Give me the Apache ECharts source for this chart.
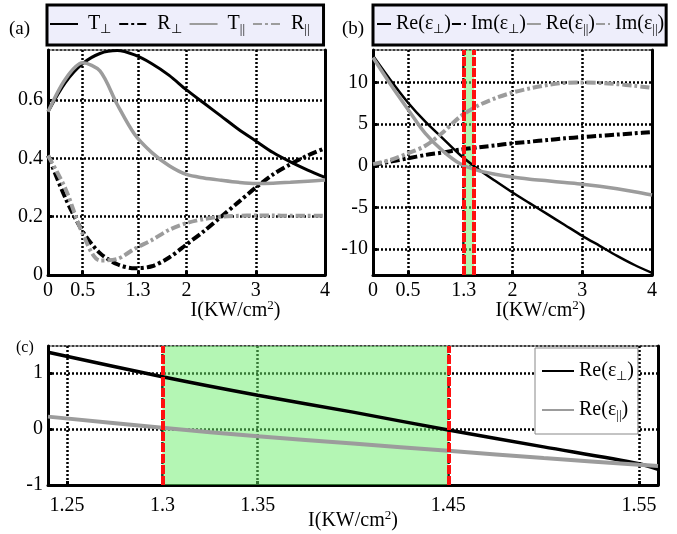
<!DOCTYPE html>
<html>
<head>
<meta charset="utf-8">
<script src="https://cdn.jsdelivr.net/npm/echarts@6/dist/echarts.min.js"></script>
<style>
  html, body { margin: 0; background: #fff; }
  #chart { width: 677px; height: 534px; }
</style>
</head>
<body>
<div id="chart"></div>
<script>
// ---- data ----
// (a) transmission / reflection vs intensity
const xA = [0, 0.25, 0.5, 0.75, 1, 1.25, 1.5, 1.75, 2, 2.25, 2.5, 2.75, 3, 3.25, 3.5, 3.75, 4];
const tPerp = [0.56, 0.66, 0.725, 0.76, 0.77, 0.755, 0.725, 0.685, 0.635, 0.59, 0.545, 0.50, 0.46, 0.42, 0.388, 0.36, 0.335];
const rPerp = [0.41, 0.265, 0.15, 0.075, 0.037, 0.023, 0.03, 0.06, 0.105, 0.15, 0.2, 0.25, 0.3, 0.345, 0.38, 0.41, 0.435];
const tPar = [0.56, 0.672, 0.728, 0.70, 0.585, 0.483, 0.42, 0.375, 0.345, 0.333, 0.325, 0.318, 0.314, 0.315, 0.318, 0.322, 0.326];
const rPar = [0.41, 0.297, 0.142, 0.05, 0.055, 0.09, 0.12, 0.155, 0.178, 0.192, 0.2, 0.203, 0.204, 0.204, 0.203, 0.203, 0.203];

// (b) permittivity components vs intensity
const xB = xA;
const reEpsPerp = [13.2, 10.3, 7.6, 5.3, 3.3, 1.3, -0.35, -1.8, -3.2, -4.5, -5.8, -7.1, -8.4, -9.6, -10.8, -11.9, -12.85];
const imEpsPerp = [0.1, 0.5, 0.9, 1.3, 1.6, 1.95, 2.2, 2.45, 2.7, 2.9, 3.1, 3.3, 3.45, 3.6, 3.75, 3.9, 4.05];
const reEpsPar = [13.0, 9.8, 6.8, 3.9, 1.8, 0.25, -0.55, -1.0, -1.35, -1.6, -1.8, -2.0, -2.2, -2.45, -2.75, -3.1, -3.5];
const imEpsPar = [0.2, 0.7, 1.5, 2.4, 4.0, 5.9, 7.2, 8.1, 8.8, 9.3, 9.7, 9.95, 10.0, 9.95, 9.8, 9.6, 9.35];

// (c) zoom on the real parts
const xC = [1.24, 1.3, 1.35, 1.4, 1.45, 1.5, 1.55, 1.56];
const reEpsPerpC = [1.37, 0.93, 0.6, 0.3, -0.02, -0.32, -0.62, -0.72];
const reEpsParC = [0.22, 0.02, -0.13, -0.26, -0.39, -0.52, -0.64, -0.66];

const bandStart = 1.3;
const bandEnd = 1.45;

// tick labels
const ticksXA = [0, 0.5, 1.3, 2, 3, 4];
const ticksYA = [0, 0.2, 0.4, 0.6];
const ticksYB = [-10, -5, 0, 5, 10];
const ticksXC = [1.25, 1.3, 1.35, 1.45, 1.55];
const ticksYC = [-1, 0, 1];

const namesA = ['T⊥', 'R⊥', 'T||', 'R||'];
const namesB = ['Re(ε⊥)', 'Im(ε⊥)', 'Re(ε||)', 'Im(ε||)'];
const xName = 'I(KW/cm{p|2})';

// ---- styles ----
const FONT = 'Liberation Serif';
const GRAY = '#9c9c9c';
const DASHDOT = [9, 3, 3, 3];

const pairs = (xs, ys) => xs.map((x, i) => [x, ys[i]]);
const subFmt = (name) => name.replace('⊥', '{s|⊥}').replace('||', '{s|||}');
const richSub = {
  s: { fontFamily: FONT, fontSize: 13, color: '#000', padding: [11, 0, 0, 0] },
};
// hide the circle that line series put in the middle of their legend icon
const noSymbol = { color: 'rgba(0,0,0,0)', borderWidth: 0 };

const gridLine = { show: true, lineStyle: { color: '#000', width: 2.5, type: [2, 2] } };

const bottomX = (gi, min, max, ticks, namePad, labelMargin) => ({
  type: 'value', gridIndex: gi, position: 'bottom', min, max,
  axisLine: { onZero: false, lineStyle: { color: '#000', width: 3 } },
  axisTick: { customValues: ticks, inside: true, length: 4, lineStyle: { color: '#000', width: 3 } },
  axisLabel: { customValues: ticks, color: '#000', fontFamily: FONT, fontSize: 20, margin: labelMargin },
  splitLine: gridLine,
  name: xName, nameLocation: 'middle', nameGap: 24, nameMoveOverlap: false,
  nameTextStyle: {
    color: '#000', fontFamily: FONT, fontSize: 20, padding: [0, 0, 0, namePad],
    rich: { p: { fontFamily: FONT, fontSize: 13, color: '#000', padding: [0, 0, 10, 0] } },
  },
});
const topX = (gi, min, max) => ({
  type: 'value', gridIndex: gi, position: 'top', min, max,
  axisLine: { onZero: false, lineStyle: { color: '#000', width: 1.5, type: [2, 2] } },
  axisTick: { show: false }, axisLabel: { show: false }, splitLine: { show: false },
});
const leftY = (gi, min, max, ticks) => ({
  type: 'value', gridIndex: gi, position: 'left', min, max,
  axisLine: { show: true, onZero: false, lineStyle: { color: '#000', width: 3 } },
  axisTick: { show: true, customValues: ticks, inside: true, length: 4, lineStyle: { color: '#000', width: 3 } },
  axisLabel: { customValues: ticks, color: '#000', fontFamily: FONT, fontSize: 20, margin: 5 },
  splitLine: gridLine,
});
const rightY = (gi, min, max) => ({
  type: 'value', gridIndex: gi, position: 'right', min, max,
  axisLine: { show: true, onZero: false, lineStyle: { color: '#000', width: 3 } },
  axisTick: { show: false }, axisLabel: { show: false }, splitLine: { show: false },
});

const line = (name, axis, data, color, width, type) => ({
  name, type: 'line', xAxisIndex: axis, yAxisIndex: axis, data,
  symbol: 'none', smooth: 0.3, animation: false,
  lineStyle: { color, width, type: type || 'solid' },
  itemStyle: { color },
});

const band = () => ({
  markArea: {
    silent: true, itemStyle: { color: 'rgba(105,238,105,0.5)' },
    data: [[{ xAxis: bandStart }, { xAxis: bandEnd }]],
  },
  markLine: {
    silent: true, symbol: 'none', label: { show: false },
    lineStyle: { color: '#ff1010', width: 4, type: [9, 2] },
    data: [{ xAxis: bandStart }, { xAxis: bandEnd }],
  },
});

const chart = echarts.init(document.getElementById('chart'), null, { renderer: 'canvas' });
chart.setOption({
  backgroundColor: '#fff',
  animation: false,
  title: [
    { text: '(a)', left: 9, top: 20, padding: 0, textStyle: { fontFamily: FONT, fontSize: 19, fontWeight: 'normal', color: '#000' } },
    { text: '(b)', left: 342, top: 20, padding: 0, textStyle: { fontFamily: FONT, fontSize: 19, fontWeight: 'normal', color: '#000' } },
    { text: '(c)', left: 16, top: 340, padding: 0, textStyle: { fontFamily: FONT, fontSize: 16, fontWeight: 'normal', color: '#000' } },
  ],
  legend: [
    {
      data: namesA, left: 47, top: 5, selectedMode: false,
      itemWidth: 28, itemHeight: 14, itemGap: 7, padding: [9, 14, 9, 2],
      backgroundColor: '#eeeefb', borderColor: '#000', borderWidth: 3, borderRadius: 0,
      itemStyle: noSymbol,
      formatter: subFmt,
      textStyle: { fontFamily: FONT, fontSize: 20, color: '#000', padding: [0, 0, 0, 5], rich: richSub },
    },
    {
      data: namesB, left: 373, top: 5, selectedMode: false,
      itemWidth: 14, itemHeight: 14, itemGap: 0, padding: [9, 2, 9, 3],
      backgroundColor: '#eeeefb', borderColor: '#000', borderWidth: 3, borderRadius: 0,
      itemStyle: noSymbol,
      formatter: subFmt,
      textStyle: { fontFamily: FONT, fontSize: 20, color: '#000', rich: richSub },
    },
    {
      data: [namesB[0], namesB[2]], left: 535, top: 348, orient: 'vertical', selectedMode: false,
      itemWidth: 32, itemHeight: 14, itemGap: 17, padding: [13, 4, 12, 6],
      backgroundColor: '#fff', borderColor: '#888', borderWidth: 1, borderRadius: 0,
      itemStyle: noSymbol,
      formatter: subFmt,
      textStyle: { fontFamily: FONT, fontSize: 20, color: '#000', rich: richSub },
    },
  ],
  grid: [
    { left: 48, top: 50, width: 277, height: 225, outerBoundsMode: 'none' },
    { left: 373, top: 50, width: 279, height: 225, outerBoundsMode: 'none' },
    { left: 48, top: 346, width: 610, height: 139, outerBoundsMode: 'none' },
  ],
  xAxis: [
    bottomX(0, 0, 4, ticksXA, 98, 6), topX(0, 0, 4),
    bottomX(1, 0, 4, ticksXA, 56, 6), topX(1, 0, 4),
    bottomX(2, 1.24, 1.56, ticksXC, 0, 11), topX(2, 1.24, 1.56),
  ],
  yAxis: [
    leftY(0, 0, 0.772, ticksYA), rightY(0, 0, 0.772),
    leftY(1, -13.1, 13.9, ticksYB), rightY(1, -13.1, 13.9),
    leftY(2, -1, 1.48, ticksYC), rightY(2, -1, 1.48),
  ],
  series: [
    line(namesA[0], 0, pairs(xA, tPerp), '#000', 3),
    line(namesA[1], 0, pairs(xA, rPerp), '#000', 4, DASHDOT),
    line(namesA[2], 0, pairs(xA, tPar), GRAY, 3.5),
    line(namesA[3], 0, pairs(xA, rPar), GRAY, 4, DASHDOT),

    Object.assign(line(namesB[0], 2, pairs(xB, reEpsPerp), '#000', 2.5), band()),
    line(namesB[1], 2, pairs(xB, imEpsPerp), '#000', 4, DASHDOT),
    line(namesB[2], 2, pairs(xB, reEpsPar), GRAY, 3.5),
    line(namesB[3], 2, pairs(xB, imEpsPar), GRAY, 4, DASHDOT),

    Object.assign(line(namesB[0], 4, pairs(xC, reEpsPerpC), '#000', 3.5), band()),
    line(namesB[2], 4, pairs(xC, reEpsParC), GRAY, 4),
  ],
});
</script>
</body>
</html>
